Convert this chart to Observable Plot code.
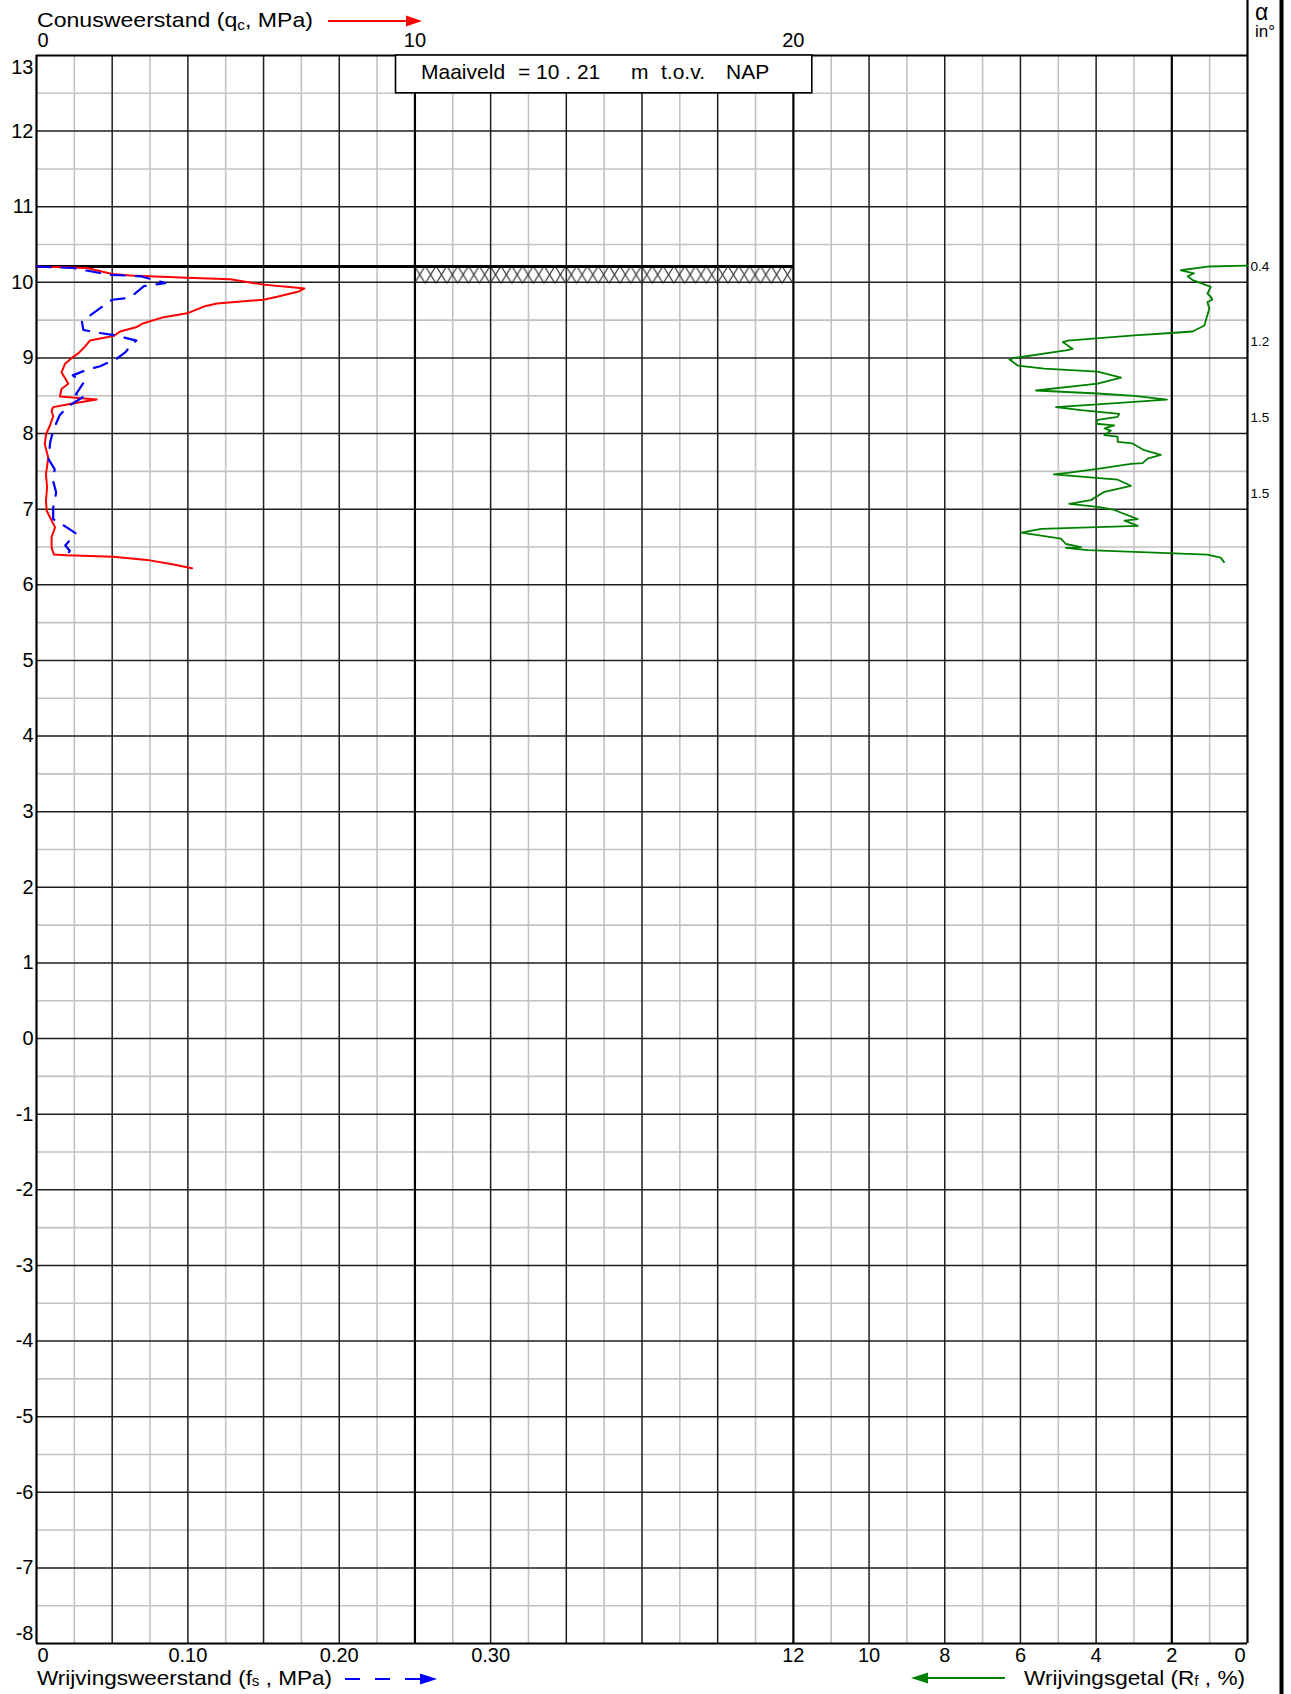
<!DOCTYPE html>
<html><head><meta charset="utf-8">
<script src="https://cdn.jsdelivr.net/npm/d3@7"></script>
<script src="https://cdn.jsdelivr.net/npm/@observablehq/plot@0.6"></script>
<style>
html,body{margin:0;padding:0;background:#fff;}
#chart svg{display:block;overflow:visible;}
</style></head><body><div id="chart"></div>
<script>
// ---------- DATA (depth in m NAP, value) ----------
const surfaceLevel = 10.21;

// Conusweerstand qc (MPa)
const qcSeries = [[10.21,0],[10.19,1.33],[10.11,2.0],[10.09,2.47],[10.06,3.98],[10.04,5.12],[9.97,6.0],[9.93,6.89],[9.92,7.08],[9.88,6.93],[9.81,6.36],[9.77,6.0],[9.72,4.77],[9.68,4.42],[9.59,3.98],[9.54,3.36],[9.46,2.83],[9.41,2.65],[9.35,2.21],[9.29,2.03],[9.23,1.41],[9.15,1.28],[9.06,1.10],[9.00,0.93],[8.92,0.75],[8.81,0.66],[8.66,0.84],[8.59,0.66],[8.49,0.62],[8.45,1.59],[8.39,0.88],[8.35,0.44],[8.30,0.40],[8.23,0.44],[8.10,0.35],[7.99,0.25],[7.86,0.22],[7.68,0.31],[7.46,0.25],[7.29,0.28],[7.11,0.25],[6.98,0.27],[6.76,0.49],[6.63,0.40],[6.49,0.40],[6.40,0.46],[6.39,0.80],[6.37,2.03],[6.33,2.92],[6.27,3.62],[6.22,4.11]];

// Wrijvingsweerstand fs (MPa)
const fsSeries = [[10.21,0],[10.19,0.024],[10.13,0.040],[10.10,0.049],[10.08,0.069],[9.99,0.085],[9.95,0.071],[9.85,0.065],[9.79,0.059],[9.77,0.050],[9.63,0.040],[9.48,0.030],[9.37,0.031],[9.33,0.042],[9.30,0.052],[9.23,0.066],[9.19,0.063],[9.08,0.059],[8.99,0.053],[8.89,0.042],[8.85,0.034],[8.77,0.024],[8.67,0.031],[8.52,0.026],[8.50,0.032],[8.35,0.020],[8.30,0.018],[8.26,0.016],[8.23,0.015],[8.04,0.011],[7.88,0.009],[7.66,0.008],[7.53,0.012],[7.37,0.011],[7.22,0.013],[7.02,0.011],[6.87,0.011],[6.76,0.020],[6.68,0.026],[6.52,0.019],[6.45,0.022],[6.39,0.020]];

// Wrijvingsgetal Rf (%)
const rfSeries = [[10.22,0.0],[10.21,1.01],[10.16,1.76],[10.12,1.41],[10.08,1.58],[10.03,1.45],[9.99,1.23],[9.94,0.97],[9.85,1.06],[9.81,0.97],[9.77,0.93],[9.74,1.06],[9.65,1.01],[9.50,1.10],[9.43,1.14],[9.35,1.45],[9.33,2.02],[9.30,2.99],[9.23,4.75],[9.21,4.88],[9.12,4.62],[9.10,4.80],[9.00,6.16],[8.98,6.29],[8.90,6.07],[8.86,5.37],[8.82,3.96],[8.74,3.34],[8.66,3.96],[8.57,5.59],[8.53,3.96],[8.50,2.99],[8.45,2.13],[8.39,3.87],[8.35,5.06],[8.31,4.40],[8.26,3.39],[8.22,3.43],[8.18,3.96],[8.13,4.0],[8.11,3.52],[8.07,3.78],[8.04,3.61],[7.98,3.78],[7.96,3.43],[7.89,3.43],[7.87,3.04],[7.78,2.73],[7.72,2.29],[7.67,2.64],[7.61,2.77],[7.60,3.08],[7.54,3.87],[7.48,4.75],[7.46,5.12],[7.39,3.43],[7.31,3.08],[7.27,3.43],[7.23,3.78],[7.12,4.14],[7.07,4.71],[7.03,3.96],[6.99,3.52],[6.87,2.90],[6.85,3.25],[6.78,2.90],[6.74,5.45],[6.69,5.98],[6.61,4.93],[6.54,4.80],[6.50,4.40],[6.49,4.80],[6.46,4.22],[6.40,1.06],[6.36,0.71],[6.30,0.62]];

// Hellingshoek alpha (degrees) at depths
const angleDepths = [10.21, 9.21, 8.21, 7.21];
const angleLabels = ["0.4", "1.2", "1.5", "1.5"];

// Tick labels
const depthTicks = [13,12,11,10,9,8,7,6,5,4,3,2,1,0,-1,-2,-3,-4,-5,-6,-7,-8];
const qcTicks = [0, 10, 20];
const qcTickLabels = ["0", "10", "20"];
const fsTicks = [0, 0.10, 0.20, 0.30];
const fsTickLabels = ["0", "0.10", "0.20", "0.30"];
const rfTicks = [12, 10, 8, 6, 4, 2, 0];
const rfTickLabels = ["12", "10", "8", "6", "4", "2", "0"];

// ---------- SCALE RELATIONS ----------
const QC_MAX = 32;          // qc axis spans 0..32 MPa across the frame
const FS_FACTOR = 40;       // 0.10 MPa fs  <->  4 MPa qc
const fsX = v => v * FS_FACTOR;
const rfX = v => QC_MAX - v; // Rf runs right to left, 0 at the right frame

const qcData = qcSeries.map(([z, v]) => ({z, v}));
const fsData = fsSeries.map(([z, v]) => ({z, v}));
const rfData = rfSeries.map(([z, v]) => ({z, v}));

const gridMinorX = d3.range(1, QC_MAX, 2);
const gridMajorX = d3.range(2, QC_MAX, 2).filter(d => d % 10 !== 0);
const gridBoldX = [10, 20, 30];
const gridMinorY = d3.range(-7.5, 13, 1);
const gridMajorY = d3.range(-7, 13, 1);

const FONT = "'Liberation Sans', Arial, Helvetica, sans-serif";
const GRID_GRAY = "#c2c2c2";
const GRID_DARK = "#1e1e1e";

const boxPieces = [
  {t: "Maaiveld", dx: 25},
  {t: "=", dx: 122},
  {t: "10 . 21", dx: 140},
  {t: "m", dx: 235},
  {t: "t.o.v.", dx: 265},
  {t: "NAP", dx: 330}
];

const TXT = {fontSize: 20, lineAnchor: "middle"};

const chart = Plot.plot({
  width: 1291,
  height: 1694,
  marginLeft: 36,
  marginRight: 44,
  marginTop: 55,
  marginBottom: 51,
  x: {domain: [0, QC_MAX], axis: null},
  y: {domain: [-8, 13], axis: null},
  style: {fontFamily: FONT, fontSize: "20px", color: "black", background: "white", overflow: "visible"},
  marks: [
    // grid
    Plot.ruleX(gridMinorX, {stroke: GRID_GRAY, strokeWidth: 1.6}),
    Plot.ruleY(gridMinorY, {stroke: GRID_GRAY, strokeWidth: 1.6}),
    Plot.ruleY(gridMajorY, {stroke: GRID_DARK, strokeWidth: 1.5}),
    Plot.ruleX(gridMajorX, {stroke: GRID_DARK, strokeWidth: 1.5}),
    Plot.ruleX(gridBoldX, {stroke: "black", strokeWidth: 2.2}),
    // hatch below ground level (qc 10..20)
    Plot.rect([surfaceLevel], {x1: 10, x2: 20, y1: d => d - 0.23, y2: d => d, fill: "url(#hatch)"}),
    // ground level line
    Plot.ruleY([surfaceLevel], {x1: 0, x2: 20, stroke: "black", strokeWidth: 3}),
    // frame
    Plot.ruleY([13, -8], {stroke: "black", strokeWidth: 2.2}),
    Plot.ruleX([0], {stroke: "black", strokeWidth: 2.2}),
    Plot.ruleX([QC_MAX], {stroke: "black", strokeWidth: 2.2, insetTop: -55}),
    Plot.ruleX([QC_MAX], {stroke: "black", strokeWidth: 4, dx: 34, insetTop: -60, insetBottom: -60}),
    // Maaiveld box
    Plot.rect([surfaceLevel], {x1: 9.5, x2: 20.5, y1: 12.5, y2: 13, fill: "white", stroke: "black", strokeWidth: 1.6}),
    ...boxPieces.map(p => Plot.text([p.t], {x: 9.5, y: 13, text: d => d, textAnchor: "start", dx: p.dx, dy: 17, fontSize: 21, lineAnchor: "middle"})),
    // curves
    Plot.line(qcData, {x: "v", y: "z", stroke: "#ff0000", strokeWidth: 2}),
    Plot.line(fsData, {x: d => fsX(d.v), y: "z", stroke: "#0000ff", strokeWidth: 2.2, strokeDasharray: "14,11"}),
    Plot.line(rfData, {x: d => rfX(d.v), y: "z", stroke: "#008000", strokeWidth: 1.8}),
    // left depth labels
    Plot.text(depthTicks.filter(d => d !== 13 && d !== -8), {...TXT, x: 0, y: d => d, text: d => String(d), textAnchor: "end", dx: -3}),
    Plot.text([13], {...TXT, x: 0, y: d => d, text: d => String(d), textAnchor: "end", dx: -3, dy: 12}),
    Plot.text([-8], {...TXT, x: 0, y: d => d, text: d => String(d), textAnchor: "end", dx: -3, dy: -10}),
    // top qc labels
    Plot.text(qcTicks.slice(0, 1), {...TXT, x: d => d, text: (d, i) => qcTickLabels[i], frameAnchor: "top", textAnchor: "start", dx: 1, dy: -14.5}),
    Plot.text(qcTicks.slice(1), {...TXT, x: d => d, text: (d, i) => qcTickLabels[i + 1], frameAnchor: "top", dy: -14.5}),
    // bottom fs labels
    Plot.text(fsTicks.slice(0, 1), {...TXT, x: d => fsX(d), text: (d, i) => fsTickLabels[i], frameAnchor: "bottom", textAnchor: "start", dx: 1, dy: 12}),
    Plot.text(fsTicks.slice(1), {...TXT, x: d => fsX(d), text: (d, i) => fsTickLabels[i + 1], frameAnchor: "bottom", dy: 12}),
    // bottom Rf labels
    Plot.text(rfTicks.slice(0, -1), {...TXT, x: d => rfX(d), text: (d, i) => rfTickLabels[i], frameAnchor: "bottom", dy: 12}),
    Plot.text(rfTicks.slice(-1), {...TXT, x: d => rfX(d), text: () => rfTickLabels[rfTickLabels.length - 1], frameAnchor: "bottom", textAnchor: "end", dx: -2, dy: 12}),
    // inclination labels
    Plot.text(angleLabels, {x: QC_MAX, y: (d, i) => angleDepths[i], text: d => d, textAnchor: "start", dx: 3, fontSize: 13.5, lineAnchor: "middle"})
  ]
});

document.getElementById("chart").appendChild(chart);

// ---------- hatch pattern ----------
const sx = chart.scale("x"), sy = chart.scale("y");
const hx0 = sx.apply(10), hx1 = sx.apply(20);
const hy0 = sy.apply(surfaceLevel), hy1 = sy.apply(surfaceLevel - 0.23);
const hw = (hx1 - hx0) / 35, hh = hy1 - hy0;
const svg = d3.select(chart);
const defs = svg.insert("defs", ":first-child");
const pat = defs.append("pattern").attr("id", "hatch").attr("patternUnits", "userSpaceOnUse")
  .attr("x", hx0).attr("y", hy0).attr("width", hw).attr("height", hh);
pat.append("path").attr("d", `M0,0L${hw},${hh}M${hw},0L0,${hh}`).attr("stroke", "#222").attr("stroke-width", 1.1).attr("fill", "none");

// ---------- titles & legend arrows ----------
function label(x, y, parts, anchor, len) {
  const t = svg.append("text").attr("x", x).attr("y", y).attr("font-size", 21)
    .attr("font-family", FONT).attr("fill", "black").attr("text-anchor", anchor);
  if (len) t.attr("textLength", len).attr("lengthAdjust", "spacingAndGlyphs");
  parts.forEach(p => {
    const s = t.append("tspan").text(p.t);
    if (p.size) s.attr("font-size", p.size);
    if (p.dy) s.attr("dy", p.dy);
  });
}
label(37, 27, [{t: "Conusweerstand (q"}, {t: "c", size: 14, dy: 3}, {t: ", MPa)", dy: -3}], "start", 276);
label(37, 1685, [{t: "Wrijvingsweerstand (f"}, {t: "s", size: 14, dy: 1}, {t: " , MPa)", dy: -1}], "start", 295);
label(1245, 1685, [{t: "Wrijvingsgetal (R"}, {t: "f", size: 14, dy: 1}, {t: " , %)", dy: -1}], "end", 221);

// red arrow (qc)
svg.append("line").attr("x1", 328).attr("x2", 408).attr("y1", 21).attr("y2", 21).attr("stroke", "#ff0000").attr("stroke-width", 2);
svg.append("polygon").attr("points", "406,15.5 422,21 406,26.5").attr("fill", "#ff0000");
// blue dashed arrow (fs)
svg.append("line").attr("x1", 345).attr("x2", 421).attr("y1", 1679).attr("y2", 1679).attr("stroke", "#0000ff").attr("stroke-width", 2).attr("stroke-dasharray", "15,15");
svg.append("polygon").attr("points", "420,1673.5 437,1679 420,1684.5").attr("fill", "#0000ff");
// green arrow (Rf)
svg.append("line").attr("x1", 926).attr("x2", 1005).attr("y1", 1678).attr("y2", 1678).attr("stroke", "#008000").attr("stroke-width", 2);
svg.append("polygon").attr("points", "928,1672.5 911,1678 928,1683.5").attr("fill", "#008000");

// alpha column header
svg.append("text").attr("x", 1255).attr("y", 20).attr("font-size", 23).attr("font-family", FONT).attr("text-anchor", "start").text("α");
svg.append("text").attr("x", 1255).attr("y", 37).attr("font-size", 17).attr("font-family", FONT).attr("text-anchor", "start").text("in°");
</script>
</body></html>
